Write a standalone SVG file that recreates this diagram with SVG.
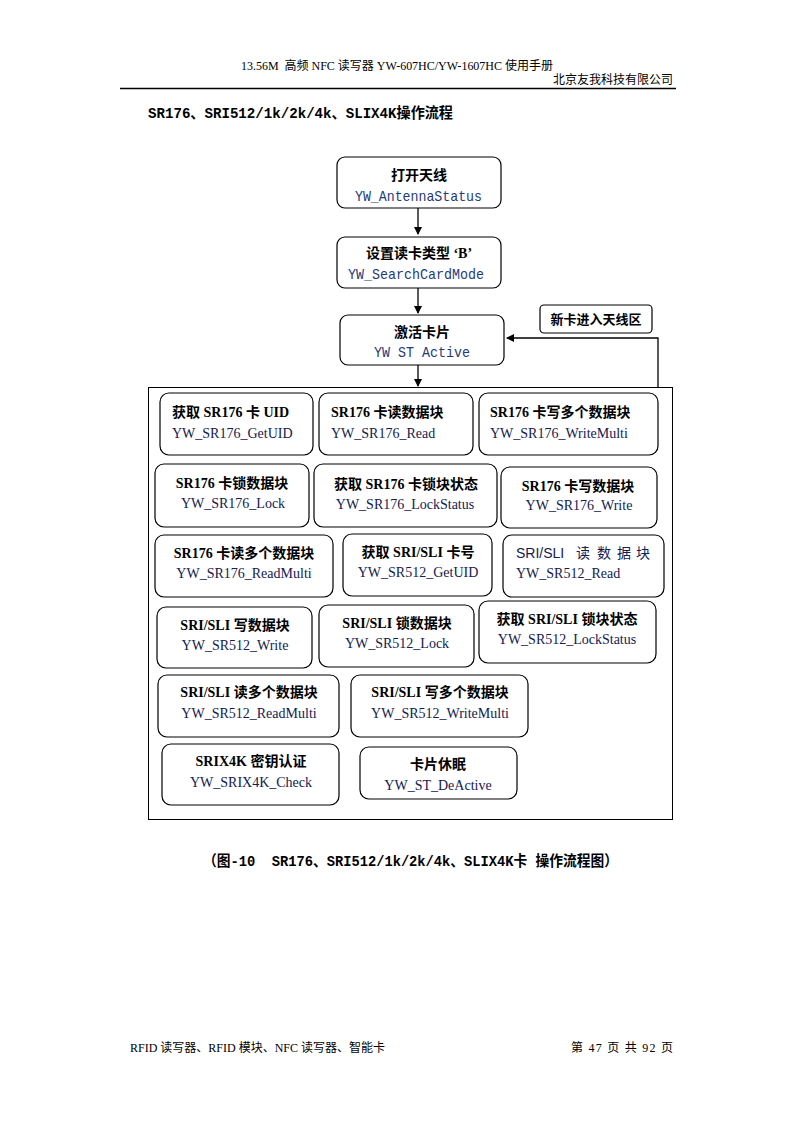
<svg xmlns="http://www.w3.org/2000/svg" width="793" height="1122" viewBox="0 0 793 1122">
<defs>
<marker id="ah" markerWidth="8" markerHeight="8" refX="7" refY="4" orient="auto" markerUnits="userSpaceOnUse">
<path d="M0,0 L8,4 L0,8 Z" fill="#000"/>
</marker>
<style>
.hd{font-family:"Liberation Serif","Noto Sans CJK SC",serif;font-size:12px;fill:#000}
.tt{font-family:"Liberation Mono","Noto Sans CJK SC",monospace;font-size:15px;font-weight:bold;fill:#000}
.box{fill:#fff;stroke:#000;stroke-width:1.2}
.lb{font-family:"Liberation Serif","Noto Sans CJK SC",serif;font-size:14px;font-weight:bold;fill:#000}
.api{font-family:"Liberation Serif","Noto Sans CJK SC",serif;font-size:14px;fill:#13204f}
.sans{font-family:"Liberation Sans","Noto Sans CJK SC",sans-serif;font-size:14px;fill:#13204f}
.mono{font-family:"Liberation Mono","DejaVu Sans Mono",monospace;font-size:15px;fill:#1f3a7a}
.ln{fill:none;stroke:#000;stroke-width:1.3}
</style>
</defs>
<rect width="793" height="1122" fill="#fff"/>
<text class="hd" x="241" y="70" textLength="312" lengthAdjust="spacing" xml:space="preserve">13.56M  高频 NFC 读写器 YW-607HC/YW-1607HC 使用手册</text>
<text class="hd" x="673" y="84" text-anchor="end">北京友我科技有限公司</text>
<line x1="120" y1="88.5" x2="676" y2="88.5" stroke="#000" stroke-width="1.5"/>
<text class="tt" x="148" y="118" textLength="305" lengthAdjust="spacingAndGlyphs">SR176、SRI512/1k/2k/4k、SLIX4K操作流程</text>

<g id="connectors">
<line class="ln" x1="418" y1="208" x2="418" y2="234" marker-end="url(#ah)"/>
<line class="ln" x1="418" y1="288" x2="418" y2="313" marker-end="url(#ah)"/>
<line class="ln" x1="418" y1="365" x2="418" y2="386" marker-end="url(#ah)"/>
<polyline class="ln" points="658,387 658,338 507,338" marker-end="url(#ah)"/>
</g>

<g id="n1"><rect class="box" x="337" y="157" width="164" height="51" rx="8"/>
<text class="lb" x="419" y="180" text-anchor="middle">打开天线</text>
<text class="mono" x="355" y="201" textLength="127" lengthAdjust="spacingAndGlyphs">YW_AntennaStatus</text></g>
<g id="n2"><rect class="box" x="337" y="237" width="164" height="51" rx="8"/>
<text class="lb" x="419" y="258" text-anchor="middle" xml:space="preserve">设置读卡类型 ‘B’</text>
<text class="mono" x="348" y="279" textLength="136" lengthAdjust="spacingAndGlyphs">YW_SearchCardMode</text></g>
<g id="n3"><rect class="box" x="340" y="315" width="164" height="50" rx="8"/>
<text class="lb" x="422" y="337" text-anchor="middle">激活卡片</text>
<text class="mono" x="374" y="357" textLength="96" lengthAdjust="spacingAndGlyphs" xml:space="preserve">YW ST Active</text></g>
<g id="n4"><rect class="box" x="540" y="305" width="112" height="28" rx="4"/>
<text class="lb" x="596" y="324" text-anchor="middle" style="font-size:13px">新卡进入天线区</text></g>

<g id="frame"><rect x="148.5" y="387.5" width="524" height="432" fill="none" stroke="#000" stroke-width="1"/></g>

<g id="g1"><rect class="box" x="160" y="393" width="153" height="62" rx="9"/>
<text class="lb" x="172" y="417">获取 SR176 卡 UID</text><text class="api" x="172" y="438">YW_SR176_GetUID</text></g>
<g id="g2"><rect class="box" x="319" y="393" width="154" height="62" rx="9"/>
<text class="lb" x="331" y="417">SR176 卡读数据块</text><text class="api" x="331" y="438">YW_SR176_Read</text></g>
<g id="g3"><rect class="box" x="479" y="393" width="179" height="62" rx="9"/>
<text class="lb" x="490" y="417">SR176 卡写多个数据块</text><text class="api" x="490" y="438">YW_SR176_WriteMulti</text></g>

<g id="g4"><rect class="box" x="155" y="464" width="154" height="63" rx="9"/>
<text class="lb" x="232" y="488" text-anchor="middle">SR176 卡锁数据块</text><text class="api" x="233" y="508" text-anchor="middle">YW_SR176_Lock</text></g>
<g id="g5"><rect class="box" x="314" y="464" width="183" height="63" rx="9"/>
<text class="lb" x="406" y="489" text-anchor="middle">获取 SR176 卡锁块状态</text><text class="api" x="405" y="509" text-anchor="middle">YW_SR176_LockStatus</text></g>
<g id="g6"><rect class="box" x="501" y="467" width="156" height="61" rx="9"/>
<text class="lb" x="578" y="491" text-anchor="middle">SR176 卡写数据块</text><text class="api" x="579" y="510" text-anchor="middle">YW_SR176_Write</text></g>

<g id="g7"><rect class="box" x="155" y="535" width="178" height="62" rx="9"/>
<text class="lb" x="244" y="558" text-anchor="middle">SR176 卡读多个数据块</text><text class="api" x="244" y="578" text-anchor="middle">YW_SR176_ReadMulti</text></g>
<g id="g8"><rect class="box" x="343" y="534" width="149" height="62" rx="9"/>
<text class="lb" x="418" y="557" text-anchor="middle">获取 SRI/SLI 卡号</text><text class="api" x="418" y="577" text-anchor="middle">YW_SR512_GetUID</text></g>
<g id="g9"><rect class="box" x="503" y="535" width="161" height="62" rx="9"/>
<text class="sans" x="516" y="558">SRI/SLI</text>
<text class="sans" x="576" y="558">读</text>
<text class="sans" x="597" y="558">数</text>
<text class="sans" x="617" y="558">据</text>
<text class="sans" x="636" y="558">块</text>
<text class="api" x="516" y="578">YW_SR512_Read</text></g>

<g id="g10"><rect class="box" x="157" y="607" width="155" height="61" rx="9"/>
<text class="lb" x="235" y="630" text-anchor="middle">SRI/SLI 写数据块</text><text class="api" x="235" y="650" text-anchor="middle">YW_SR512_Write</text></g>
<g id="g11"><rect class="box" x="319" y="605" width="155" height="62" rx="9"/>
<text class="lb" x="397" y="628" text-anchor="middle">SRI/SLI 锁数据块</text><text class="api" x="397" y="648" text-anchor="middle">YW_SR512_Lock</text></g>
<g id="g12"><rect class="box" x="479" y="601" width="177" height="62" rx="9"/>
<text class="lb" x="567" y="624" text-anchor="middle">获取 SRI/SLI 锁块状态</text><text class="api" x="567" y="644" text-anchor="middle">YW_SR512_LockStatus</text></g>

<g id="g13"><rect class="box" x="158" y="675" width="181" height="62" rx="9"/>
<text class="lb" x="249" y="697" text-anchor="middle">SRI/SLI 读多个数据块</text><text class="api" x="249" y="718" text-anchor="middle">YW_SR512_ReadMulti</text></g>
<g id="g14"><rect class="box" x="351" y="675" width="177" height="62" rx="9"/>
<text class="lb" x="440" y="697" text-anchor="middle">SRI/SLI 写多个数据块</text><text class="api" x="440" y="718" text-anchor="middle">YW_SR512_WriteMulti</text></g>

<g id="g15"><rect class="box" x="162" y="744" width="177" height="61" rx="9"/>
<text class="lb" x="251" y="766" text-anchor="middle">SRIX4K 密钥认证</text><text class="api" x="251" y="787" text-anchor="middle">YW_SRIX4K_Check</text></g>
<g id="g16"><rect class="box" x="360" y="747" width="157" height="52" rx="9"/>
<text class="lb" x="438" y="769" text-anchor="middle">卡片休眠</text><text class="api" x="438" y="790" text-anchor="middle">YW_ST_DeActive</text></g>

<text class="tt" x="203" y="866" textLength="415" lengthAdjust="spacingAndGlyphs" xml:space="preserve">（图-10  SR176、SRI512/1k/2k/4k、SLIX4K卡 操作流程图）</text>

<text class="hd" x="130" y="1052">RFID 读写器、RFID 模块、NFC 读写器、智能卡</text>
<text class="hd" x="571" y="1052" textLength="102" lengthAdjust="spacing" xml:space="preserve">第 47 页 共 92 页</text>
</svg>
